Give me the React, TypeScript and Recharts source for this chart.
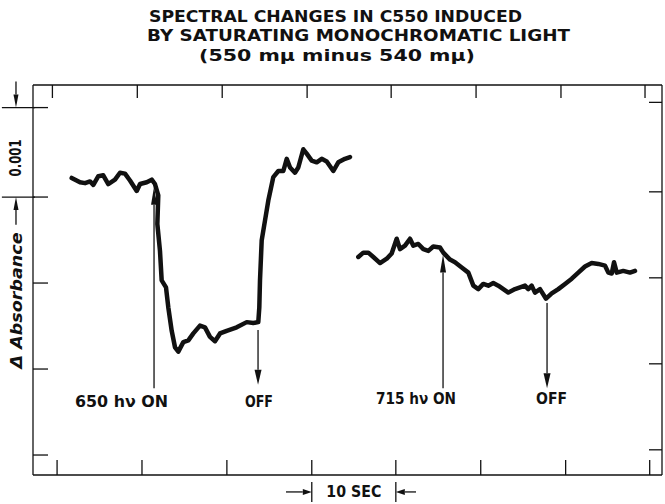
import React from 'react';
import {
  LineChart,
  Line,
  XAxis,
  YAxis,
  ReferenceLine,
  ReferenceDot,
} from 'recharts';

// trace 1: 650 nm light on / off (time in sec, delta absorbance in 0.001 units)
const TIME_A = [
  4.32, 5.3, 5.89, 6.48, 6.87, 7.46, 8.04, 8.63, 9.42, 10.01, 10.6, 11.19, 11.98, 12.37, 13.16,
  13.75, 14.13, 14.52, 14.41, 14.72, 14.92, 15.43, 15.7, 16.1, 16.49, 16.88, 17.47, 18.06, 18.65,
  19.43, 20.02, 20.61, 21.2, 21.79, 22.58, 23.76, 24.94, 25.71, 26.3, 26.42, 26.5, 26.7, 27.09,
  27.48, 28.07, 28.66, 29.25, 29.65, 30.04, 30.62, 31.01, 31.6, 32.0, 32.59, 33.18, 33.77, 34.36,
  35.14, 35.72, 36.51, 37.1,
];
const ABS_A = [
  3.46, 3.41, 3.4, 3.42, 3.38, 3.48, 3.49, 3.39, 3.44, 3.52, 3.51, 3.43, 3.31, 3.39, 3.41, 3.44,
  3.39, 3.26, 2.93, 2.62, 2.28, 2.2, 1.97, 1.7, 1.51, 1.46, 1.57, 1.59, 1.67, 1.76, 1.74, 1.63,
  1.58, 1.67, 1.7, 1.74, 1.8, 1.79, 1.8, 1.97, 2.28, 2.74, 2.97, 3.2, 3.47, 3.54, 3.54, 3.68,
  3.58, 3.52, 3.58, 3.79, 3.74, 3.66, 3.64, 3.68, 3.65, 3.54, 3.64, 3.68, 3.7,
];

// trace 2: 715 nm light on / off
const TIME_B = [
  38.08, 38.67, 39.26, 39.85, 40.64, 41.43, 42.01, 42.6, 42.99, 43.58, 44.17, 44.56, 45.15, 45.74,
  46.33, 46.91, 47.7, 48.09, 48.88, 49.47, 50.26, 51.04, 51.63, 52.21, 52.8, 53.39, 53.98, 54.57,
  55.16, 55.75, 56.54, 57.13, 57.71, 58.1, 58.5, 58.89, 59.48, 60.19, 60.86, 61.64, 62.43, 63.22,
  63.99, 64.78, 65.57, 66.35, 67.14, 67.53, 67.93, 68.2, 68.52, 69.29, 70.08, 70.67,
];
const ABS_B = [
  2.55, 2.6, 2.6, 2.55, 2.48, 2.53, 2.59, 2.76, 2.64, 2.68, 2.76, 2.68, 2.7, 2.64, 2.62, 2.67,
  2.66, 2.6, 2.52, 2.49, 2.43, 2.37, 2.22, 2.18, 2.24, 2.22, 2.25, 2.22, 2.18, 2.14, 2.18, 2.2,
  2.22, 2.18, 2.22, 2.14, 2.18, 2.07, 2.13, 2.18, 2.24, 2.3, 2.37, 2.44, 2.48, 2.47, 2.45, 2.37,
  2.36, 2.49, 2.37, 2.39, 2.37, 2.39,
];

// axis ticks (10 sec apart, 0.001 absorbance apart)
const TIME_TICKS = [2.6, 12.6, 22.6, 32.6, 42.5, 52.5, 62.5, 72.4];
const ABS_TICKS = [0.27, 1.26, 2.25, 3.24, 4.27];

// light on/off events
const EVENT_T = [14.02, 26.27, 48.06, 60.31];
const EVENT_FROM = [1.04, 1.71, 1.04, 2.02];
const EVENT_TO = [3.36, 1.08, 2.58, 1.04];
const EVENT_LABELS = ['650 hν ON', 'OFF', '715 hν ON', 'OFF'];
const LABEL_T = [10.19, 26.38, 44.88, 60.84];
const LABEL_V = [0.875, 0.875, 0.915, 0.915];
const LABEL_W = [93, 28, 80, 31];

const TITLE_LINES = [
  'SPECTRAL CHANGES IN C550 INDUCED',
  'BY SATURATING MONOCHROMATIC LIGHT',
  '(550 mμ minus 540 mμ)',
];
const TITLE_X = [335.5, 358.5, 337];
const TITLE_Y = [16, 35, 55];
const TITLE_W = [373, 423, 276];

const INK = '#111';
const FONT = 'DejaVu Sans, sans-serif';

const toPoints = (ts: number[], vs: number[]) => ts.map((t, i) => ({ t, v: vs[i] }));
const traceA = toPoints(TIME_A, ABS_A);
const traceB = toPoints(TIME_B, ABS_B);

const arrow = (len: number, half: number) => (p: any) => {
  const { x1, y1, x2, y2 } = p;
  const dx = x2 - x1;
  const dy = y2 - y1;
  const d = Math.hypot(dx, dy) || 1;
  const ux = dx / d;
  const uy = dy / d;
  const bx = x2 - ux * len;
  const by = y2 - uy * len;
  const nx = -uy * half;
  const ny = ux * half;
  return (
    <g>
      <line x1={x1} y1={y1} x2={bx} y2={by} stroke={INK} strokeWidth={1.3} />
      <polygon points={`${x2},${y2} ${bx + nx},${by + ny} ${bx - nx},${by - ny}`} fill={INK} />
    </g>
  );
};

const textShape =
  (text: string, width: number, opts: { rotate?: boolean; italic?: boolean; size?: number } = {}) =>
  (p: any) => (
    <text
      x={p.cx}
      y={p.cy}
      textAnchor="middle"
      dominantBaseline="central"
      textLength={width}
      lengthAdjust="spacingAndGlyphs"
      transform={opts.rotate ? `rotate(-90 ${p.cx} ${p.cy})` : undefined}
      fontFamily={FONT}
      fontWeight="bold"
      fontStyle={opts.italic ? 'italic' : 'normal'}
      fontSize={opts.size ?? 15}
      fill={INK}
    >
      {text}
    </text>
  );

// the frame only carries tick marks, no numbers
const noLabel = () => <g />;

const ax = { xAxisId: 'b', yAxisId: 'l' };
const lineStyle = { stroke: INK, strokeWidth: 1.3 };

export default function App() {
  return (
    <div style={{ position: 'absolute', left: 0, top: 0, width: 665, height: 504, background: '#fff' }}>
      <svg width={665} height={70} style={{ position: 'absolute', left: 0, top: 0 }}>
        {TITLE_LINES.map((line, i) => (
          <text
            key={i}
            x={TITLE_X[i]}
            y={TITLE_Y[i]}
            textAnchor="middle"
            dominantBaseline="central"
            textLength={TITLE_W[i]}
            lengthAdjust="spacingAndGlyphs"
            fontFamily={FONT}
            fontWeight="bold"
            fontSize={16}
            fill={INK}
          >
            {line}
          </text>
        ))}
      </svg>
      <LineChart width={665} height={504} margin={{ top: 85, right: 3, bottom: 29, left: 33 }}>
        <XAxis
          xAxisId="b"
          type="number"
          dataKey="t"
          domain={[-0.236, 73.85]}
          allowDataOverflow
          ticks={TIME_TICKS}
          orientation="bottom"
          mirror
          tick={noLabel}
          tickSize={15}
          axisLine={lineStyle}
          tickLine={lineStyle}
        />
        <XAxis
          xAxisId="t"
          type="number"
          dataKey="t"
          domain={[0.314, 74.4]}
          allowDataOverflow
          ticks={TIME_TICKS}
          orientation="top"
          mirror
          tick={noLabel}
          tickSize={13}
          axisLine={lineStyle}
          tickLine={lineStyle}
        />
        <YAxis
          yAxisId="l"
          type="number"
          domain={[0.04, 4.53]}
          allowDataOverflow
          ticks={ABS_TICKS}
          orientation="left"
          mirror
          tick={noLabel}
          tickSize={15}
          axisLine={lineStyle}
          tickLine={lineStyle}
        />
        <YAxis
          yAxisId="r"
          type="number"
          domain={[-0.02, 4.47]}
          allowDataOverflow
          ticks={ABS_TICKS}
          orientation="right"
          mirror
          tick={noLabel}
          tickSize={13}
          axisLine={lineStyle}
          tickLine={lineStyle}
        />

        <Line
          {...ax}
          data={traceA}
          dataKey="v"
          type="linear"
          stroke={INK}
          strokeWidth={4.5}
          strokeLinejoin="round"
          strokeLinecap="round"
          dot={false}
          isAnimationActive={false}
        />
        <Line
          {...ax}
          data={traceB}
          dataKey="v"
          type="linear"
          stroke={INK}
          strokeWidth={4.5}
          strokeLinejoin="round"
          strokeLinecap="round"
          dot={false}
          isAnimationActive={false}
        />

        {EVENT_T.map((t, i) => (
          <ReferenceLine
            key={`ev${i}`}
            {...ax}
            ifOverflow="visible"
            segment={[
              { x: t, y: EVENT_FROM[i] },
              { x: t, y: EVENT_TO[i] },
            ]}
            shape={i % 2 === 0 ? arrow(18, 3) : arrow(15, 3.5)}
          />
        ))}
        {EVENT_LABELS.map((label, i) => (
          <ReferenceDot
            key={`lb${i}`}
            {...ax}
            x={LABEL_T[i]}
            y={LABEL_V[i]}
            r={0}
            ifOverflow="visible"
            shape={textShape(label, LABEL_W[i])}
          />
        ))}

        {/* 0.001 absorbance scale bar on the left */}
        <ReferenceLine {...ax} ifOverflow="visible" segment={[{ x: -3.9, y: 4.27 }, { x: 0, y: 4.27 }]} {...lineStyle} />
        <ReferenceLine {...ax} ifOverflow="visible" segment={[{ x: -3.9, y: 3.24 }, { x: 0, y: 3.24 }]} {...lineStyle} />
        <ReferenceLine {...ax} ifOverflow="visible" segment={[{ x: -2.24, y: 4.57 }, { x: -2.24, y: 4.27 }]} shape={arrow(13, 2.5)} />
        <ReferenceLine {...ax} ifOverflow="visible" segment={[{ x: -2.24, y: 2.92 }, { x: -2.24, y: 3.24 }]} shape={arrow(13, 2.5)} />
        <ReferenceDot {...ax} x={-2.24} y={3.69} r={0} ifOverflow="visible" shape={textShape('0.001', 37, { rotate: true })} />
        <ReferenceDot
          {...ax}
          x={-2.1}
          y={2.05}
          r={0}
          ifOverflow="visible"
          shape={textShape('Δ  Absorbance', 136, { rotate: true, italic: true })}
        />

        {/* 10 sec time scale under the axis */}
        <ReferenceLine {...ax} ifOverflow="visible" segment={[{ x: 32.6, y: -0.04 }, { x: 32.6, y: -0.27 }]} {...lineStyle} />
        <ReferenceLine {...ax} ifOverflow="visible" segment={[{ x: 42.5, y: -0.04 }, { x: 42.5, y: -0.27 }]} {...lineStyle} />
        <ReferenceLine {...ax} ifOverflow="visible" segment={[{ x: 29.56, y: -0.155 }, { x: 32.6, y: -0.155 }]} shape={arrow(9, 3)} />
        <ReferenceLine {...ax} ifOverflow="visible" segment={[{ x: 44.88, y: -0.155 }, { x: 42.5, y: -0.155 }]} shape={arrow(9, 3)} />
        <ReferenceDot {...ax} x={37.55} y={-0.16} r={0} ifOverflow="visible" shape={textShape('10 SEC', 55)} />
      </LineChart>
    </div>
  );
}
